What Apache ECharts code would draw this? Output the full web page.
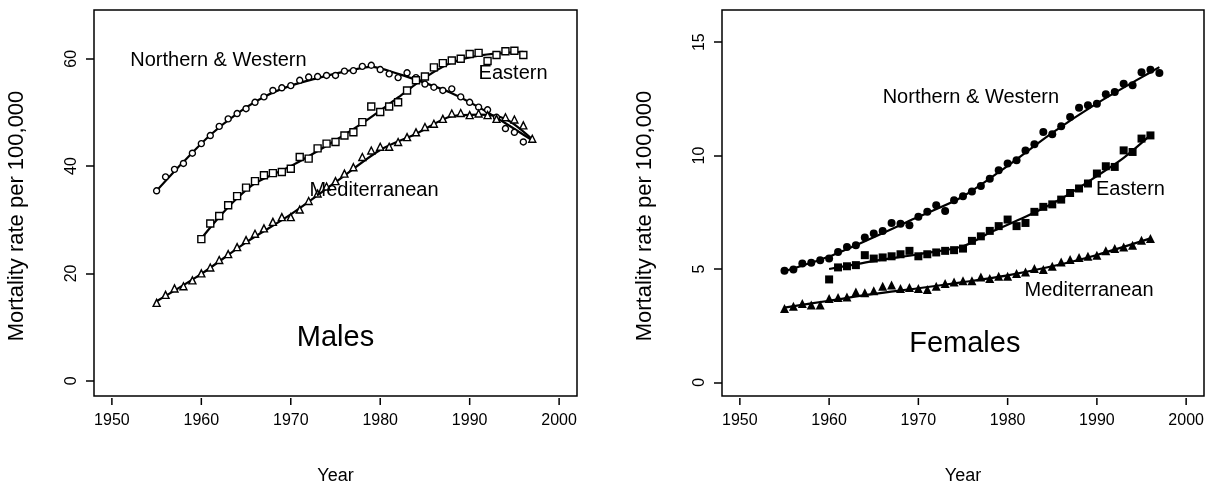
<!DOCTYPE html>
<html>
<head>
<meta charset="utf-8">
<script src="https://cdn.jsdelivr.net/npm/echarts@6/dist/echarts.min.js"></script>
<style>
  html, body { margin: 0; padding: 0; background: #fff; }
  #chart { width: 1214px; height: 491px; }
</style>
</head>
<body>
<div id="chart"></div>
<script>
// years helper (consecutive annual observations)
function span(a, b) { var r = []; for (var y = a; y <= b; y++) r.push(y); return r }

// ---- Males ----
var maleNWYears = span(1955, 1996)
var maleNW = [35.4, 38.0, 39.4, 40.5, 42.4, 44.2, 45.7, 47.4, 48.8, 49.8,
  50.7, 51.9, 52.9, 54.1, 54.6, 55.0, 56.0, 56.6, 56.7, 56.9,
  56.9, 57.7, 57.8, 58.6, 58.8, 58.0, 57.2, 56.5, 57.4, 56.5,
  55.3, 54.7, 54.1, 54.4, 52.9, 51.9, 51.0, 50.5, 49.1, 47.0,
  46.3, 44.5]
var maleEYears = span(1960, 1996)
var maleE = [26.4, 29.3, 30.7, 32.7, 34.4, 36.0, 37.2, 38.3, 38.7, 38.9,
  39.5, 41.7, 41.4, 43.3, 44.2, 44.5, 45.7, 46.3, 48.2, 51.1,
  50.1, 51.1, 51.9, 54.1, 56.0, 56.7, 58.4, 59.2, 59.7, 60.0,
  60.9, 61.1, 59.6, 60.7, 61.4, 61.5, 60.7]
var maleMYears = span(1955, 1997)
var maleM = [14.5, 16.0, 17.2, 17.6, 18.7, 20.0, 21.1, 22.5, 23.6, 24.9,
  26.2, 27.4, 28.4, 29.6, 30.5, 30.5, 31.9, 33.5, 34.9, 36.2,
  37.2, 38.6, 39.8, 41.7, 42.9, 43.6, 43.6, 44.5, 45.4, 46.3,
  47.3, 47.9, 48.8, 49.8, 49.9, 49.5, 49.8, 49.5, 48.8, 49.1,
  48.7, 47.6, 45.1]

// fitted (smoothed) curves
var maleNWFitYears = [1955, 1958, 1961, 1964, 1967, 1970, 1973, 1976, 1979, 1982, 1985, 1988, 1991, 1994, 1997]
var maleNWFit = [35.4, 40.8, 45.8, 49.8, 52.9, 55.0, 56.4, 57.6, 58.5, 57.2, 55.5, 53.6, 51.0, 48.0, 44.8]
var maleEFitYears = [1960, 1962, 1964, 1966, 1970, 1974, 1978, 1982, 1985, 1988, 1991, 1994, 1996]
var maleEFit = [26.5, 30.5, 34.0, 36.8, 40.0, 43.8, 48.0, 52.8, 56.5, 59.3, 60.6, 61.1, 61.3]
var maleMFitYears = [1955, 1960, 1965, 1970, 1975, 1980, 1984, 1988, 1991, 1994, 1997]
var maleMFit = [14.8, 19.9, 25.8, 31.0, 37.0, 43.0, 46.0, 49.3, 49.6, 48.8, 45.0]

// ---- Females ----
var femNWYears = span(1955, 1997)
var femNW = [4.92, 4.98, 5.24, 5.27, 5.39, 5.46, 5.75, 5.97, 6.05, 6.39,
  6.56, 6.68, 7.03, 7.00, 6.93, 7.30, 7.52, 7.81, 7.56, 8.03,
  8.21, 8.42, 8.66, 8.98, 9.35, 9.65, 9.79, 10.23, 10.50, 11.04,
  10.94, 11.29, 11.70, 12.11, 12.22, 12.29, 12.70, 12.80, 13.17, 13.10,
  13.68, 13.79, 13.64]
var femEYears = span(1960, 1996)
var femE = [4.54, 5.07, 5.12, 5.17, 5.61, 5.46, 5.51, 5.56, 5.65, 5.80,
  5.56, 5.65, 5.73, 5.80, 5.83, 5.90, 6.24, 6.44, 6.68, 6.89,
  7.18, 6.89, 7.03, 7.52, 7.74, 7.85, 8.06, 8.35, 8.55, 8.77,
  9.21, 9.53, 9.50, 10.23, 10.16, 10.75, 10.89]
var femMYears = span(1955, 1996)
var femM = [3.26, 3.36, 3.48, 3.41, 3.41, 3.70, 3.74, 3.77, 3.99, 3.95,
  4.04, 4.24, 4.29, 4.14, 4.18, 4.14, 4.10, 4.24, 4.36, 4.43,
  4.48, 4.48, 4.65, 4.58, 4.68, 4.68, 4.80, 4.87, 5.02, 4.98,
  5.12, 5.31, 5.42, 5.51, 5.56, 5.61, 5.80, 5.90, 5.97, 6.05,
  6.27, 6.34]

var femNWFitYears = [1955, 1960, 1965, 1970, 1975, 1980, 1985, 1990, 1995, 1997]
var femNWFit = [4.9, 5.55, 6.4, 7.3, 8.2, 9.55, 11.0, 12.3, 13.45, 13.9]
var femEFitYears = [1960, 1965, 1970, 1975, 1978, 1982, 1986, 1990, 1993, 1996]
var femEFit = [5.0, 5.35, 5.65, 6.0, 6.6, 7.3, 8.1, 9.1, 9.9, 10.9]
var femMFitYears = [1955, 1960, 1965, 1970, 1975, 1980, 1985, 1990, 1996]
var femMFit = [3.3, 3.6, 3.9, 4.15, 4.42, 4.72, 5.12, 5.62, 6.35]

// tick labels
var yearTicks = [1950, 1960, 1970, 1980, 1990, 2000]
var maleTicks = [0, 20, 40, 60]
var femTicks = [0, 5, 10, 15]

// text in the panels: [text, year, value]
var maleNotes = [['Northern & Western', 1952.05, 59.7], ['Eastern', 1991.0, 57.3], ['Mediterranean', 1972.1, 35.5]]
var femNotes = [['Northern & Western', 1966.0, 12.57], ['Eastern', 1989.9, 8.52], ['Mediterranean', 1981.9, 4.07]]
var maleTitle = ['Males', 1975.0, 8.0]
var femTitle = ['Females', 1975.2, 1.7]

var FONT = '"Liberation Sans", Arial, Helvetica, sans-serif'
var X_RANGE = [1948, 2002]
// value range covered by the drawn box of each panel
var BOX = [[-2.85, 69.1], [-0.6, 16.42]]
var BOX_PX = 386   // box height
var TICK_PX = 9    // band under the box that holds the year ticks
// the grid is a little taller than the box so the ticks sit inside it
var Y_MIN = BOX.map(function (b) { return b[0] - (b[1] - b[0]) * TICK_PX / BOX_PX })

function zip(xs, ys) { return xs.map(function (x, i) { return [x, ys[i]] }) }

function xAxisFor(gi) {
  return {
    gridIndex: gi, type: 'value', min: X_RANGE[0], max: X_RANGE[1],
    position: 'bottom',
    axisLine: { show: false, onZero: false },
    axisTick: { show: false }, // tick marks come from the custom series below
    axisLabel: {
      color: '#000', fontSize: 16, fontFamily: FONT, margin: 8, customValues: yearTicks,
      formatter: function (v) { return String(v) }
    },
    splitLine: { show: false },
    name: 'Year', nameLocation: 'middle', nameGap: 62,
    nameTextStyle: { color: '#000', fontSize: 18, fontFamily: FONT }
  }
}

function yAxisFor(gi, ticks) {
  return {
    gridIndex: gi, type: 'value', min: Y_MIN[gi], max: BOX[gi][1],
    position: 'left',
    axisLine: { show: false, onZero: false },
    axisTick: { show: true, length: 8, lineStyle: { color: '#000', width: 1.5 }, customValues: ticks },
    axisLabel: { color: '#000', fontSize: 16, fontFamily: FONT, margin: 14, rotate: 90, customValues: ticks },
    splitLine: { show: false },
    name: 'Mortality rate per 100,000', nameLocation: 'middle', nameGap: 66,
    nameTextStyle: { color: '#000', fontSize: 22, fontFamily: FONT, padding: [0, 17, 0, 0] }
  }
}

function pts(gi, xs, ys, symbol, size, filled) {
  return {
    type: 'scatter', xAxisIndex: gi, yAxisIndex: gi,
    symbol: symbol, symbolSize: size,
    itemStyle: { opacity: 1, color: filled ? '#000' : '#fff', borderColor: '#000', borderWidth: filled ? 0 : 1.4 },
    data: zip(xs, ys), z: 3
  }
}

function fit(gi, xs, ys) {
  return {
    type: 'line', xAxisIndex: gi, yAxisIndex: gi,
    smooth: 0.3, showSymbol: false,
    lineStyle: { color: '#000', width: 2.2 },
    data: zip(xs, ys), z: 2
  }
}

function notes(gi, list, size, align) {
  return {
    type: 'scatter', xAxisIndex: gi, yAxisIndex: gi, symbolSize: 0, silent: true,
    itemStyle: { opacity: 1 },
    label: {
      show: true, position: 'inside', align: align, verticalAlign: 'middle',
      color: '#000', textBorderWidth: 0, textBorderColor: 'transparent',
      fontSize: size, fontFamily: FONT, formatter: '{b}'
    },
    data: list.map(function (n) { return { name: n[0], value: [n[1], n[2]] } }),
    z: 4
  }
}

// the plot frame, from the box's data corners
function boxSeries(gi) {
  return {
    type: 'custom', xAxisIndex: gi, yAxisIndex: gi, clip: false, silent: true,
    encode: { x: [0, 2], y: [1, 3] },
    data: [[X_RANGE[0], BOX[gi][0], X_RANGE[1], BOX[gi][1]]],
    renderItem: function (params, api) {
      var a = api.coord([api.value(0), api.value(3)])
      var b = api.coord([api.value(2), api.value(1)])
      return {
        type: 'rect',
        shape: { x: a[0], y: a[1], width: b[0] - a[0], height: b[1] - a[1] },
        style: { fill: 'none', stroke: '#000', lineWidth: 1.5 }
      }
    },
    z: 1
  }
}

// short year ticks hanging under the box, inside the taller grid
function yearTickSeries(gi) {
  return {
    type: 'custom', xAxisIndex: gi, yAxisIndex: gi, clip: false, silent: true,
    encode: { x: 0, y: 1 },
    data: yearTicks.map(function (yr) { return [yr, BOX[gi][0]] }),
    renderItem: function (params, api) {
      var p = api.coord([api.value(0), api.value(1)])
      return {
        type: 'line',
        shape: { x1: p[0], y1: p[1] + 2, x2: p[0], y2: p[1] + 9 },
        style: { stroke: '#000', lineWidth: 1.5 }
      }
    },
    z: 5
  }
}

var chart = echarts.init(document.getElementById('chart'))
chart.setOption({
  backgroundColor: '#fff',
  animation: false,
  grid: [
    { left: 94, top: 10, width: 483, height: BOX_PX + TICK_PX, show: false },
    { left: 722, top: 10, width: 482, height: BOX_PX + TICK_PX, show: false }
  ],
  xAxis: [xAxisFor(0), xAxisFor(1)],
  yAxis: [yAxisFor(0, maleTicks), yAxisFor(1, femTicks)],
  series: [
    boxSeries(0),
    fit(0, maleNWFitYears, maleNWFit),
    fit(0, maleEFitYears, maleEFit),
    fit(0, maleMFitYears, maleMFit),
    pts(0, maleNWYears, maleNW, 'circle', 6, false),
    pts(0, maleEYears, maleE, 'rect', 7, false),
    pts(0, maleMYears, maleM, 'triangle', 7, false),
    notes(0, maleNotes, 20, 'left'),
    notes(0, [maleTitle], 29, 'center'),
    yearTickSeries(0),

    boxSeries(1),
    fit(1, femNWFitYears, femNWFit),
    fit(1, femEFitYears, femEFit),
    fit(1, femMFitYears, femMFit),
    pts(1, femNWYears, femNW, 'circle', 8, true),
    pts(1, femEYears, femE, 'rect', 8, true),
    pts(1, femMYears, femM, 'triangle', 9, true),
    notes(1, femNotes, 20, 'left'),
    notes(1, [femTitle], 29, 'center'),
    yearTickSeries(1)
  ]
})
</script>
</body>
</html>
